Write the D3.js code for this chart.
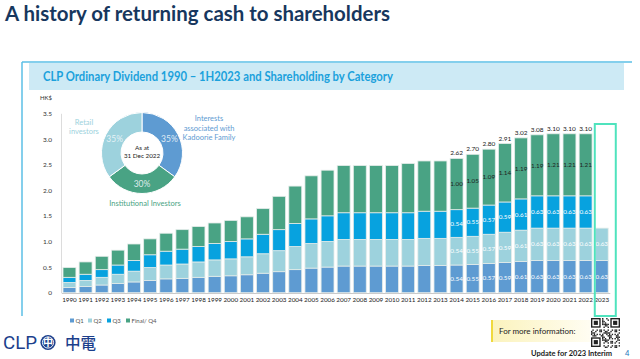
<!DOCTYPE html>
<html><head><meta charset="utf-8">
<script src="https://cdn.jsdelivr.net/npm/d3@7"></script>
<style>
html,body{margin:0;padding:0;background:#fff;}
svg{display:block;font-family:Lato, "Open Sans", sans-serif;}
</style></head>
<body>
<svg id="c" width="640" height="359"></svg>
<script>
const years = ["1990","1991","1992","1993","1994","1995","1996","1997","1998","1999","2000","2001","2002","2003","2004","2005","2006","2007","2008","2009","2010","2011","2012","2013","2014","2015","2016","2017","2018","2019","2020","2021","2022","2023"];
const q1 = [0.10,0.12,0.15,0.18,0.21,0.24,0.27,0.28,0.30,0.32,0.33,0.35,0.38,0.41,0.45,0.48,0.50,0.52,0.52,0.52,0.52,0.52,0.53,0.53,0.54,0.55,0.57,0.59,0.61,0.63,0.63,0.63,0.63,0.63];
const q2 = [0.10,0.12,0.15,0.18,0.21,0.25,0.27,0.28,0.30,0.32,0.33,0.35,0.38,0.41,0.45,0.48,0.50,0.52,0.52,0.52,0.52,0.52,0.53,0.53,0.54,0.55,0.57,0.59,0.61,0.63,0.63,0.63,0.63,0.63];
const q3 = [0.10,0.12,0.15,0.18,0.21,0.25,0.27,0.29,0.30,0.32,0.34,0.35,0.38,0.41,0.45,0.48,0.50,0.52,0.52,0.52,0.52,0.52,0.53,0.53,0.54,0.55,0.57,0.59,0.61,0.63,0.63,0.63,0.63,0];
const q4 = [0.19,0.24,0.26,0.29,0.32,0.31,0.35,0.38,0.39,0.40,0.41,0.43,0.50,0.65,0.73,0.84,0.89,0.92,0.92,0.92,0.92,0.96,0.98,0.98,1.00,1.05,1.09,1.14,1.19,1.19,1.21,1.21,1.21,0];
const totals = [null,null,null,null,null,null,null,null,null,null,null,null,null,null,null,null,null,null,null,null,null,null,null,null,"2.62","2.70","2.80","2.91","3.02","3.08","3.10","3.10","3.10",null];
const labelFrom = "2014";
const yTicks = [0,0.5,1.0,1.5,2.0,2.5,3.0,3.5];
const yTickLabels = ["0","0.5","1.0","1.5","2.0","2.5","3.0","3.5"];
const seriesNames = ["Q1","Q2","Q3","Final/ Q4"];
const seriesColors = ["#5e9bd2","#9dd2dd","#07a2df","#49a384"];
const holders = ["Interests associated with Kadoorie Family","Institutional Investors","Retail investors"];
const holderShares = [35,30,35];
const holderColors = ["#5e9bd2","#49a384","#9dd2dd"];

const svg = d3.select("#c");

// Page title
svg.append("text").attr("x",5).attr("y",21).attr("font-size",21).attr("font-weight",700)
  .attr("fill","#17375e").attr("textLength",385).attr("lengthAdjust","spacingAndGlyphs")
  .text("A history of returning cash to shareholders");

// Box frame
svg.append("rect").attr("x",29).attr("y",63).attr("width",595).attr("height",27).attr("fill","#cdeaf5");
svg.append("line").attr("x1",22).attr("x2",632).attr("y1",62).attr("y2",62).attr("stroke","#5bbfe6").attr("stroke-width",1.5);
svg.append("line").attr("x1",22).attr("x2",22).attr("y1",62).attr("y2",316).attr("stroke","#5bbfe6").attr("stroke-width",1.5);
svg.append("text").attr("x",43).attr("y",81).attr("font-size",12.5).attr("font-weight",700)
  .attr("fill","#1ba1dc").attr("textLength",350).attr("lengthAdjust","spacingAndGlyphs")
  .text("CLP Ordinary Dividend 1990 \u2013 1H2023 and Shareholding by Category");

// Scales
const x = d3.scaleBand().domain(years).range([61.4,609.8]).paddingInner(0.2).paddingOuter(0.1);
const y = d3.scaleLinear().domain([0,3.5]).range([292.7,113.3]);

// Axes
svg.append("text").attr("x",40).attr("y",100).attr("font-size",6).attr("fill","#333").text("HK$");
const yAxis = svg.append("g").attr("transform","translate(61,0)")
  .call(d3.axisLeft(y).tickValues(yTicks).tickFormat((d,i)=>yTickLabels[i]).tickSize(0).tickPadding(9));
yAxis.select(".domain").attr("stroke","#dcdcdc");
yAxis.selectAll("text").attr("font-size",6.5).attr("fill","#333").attr("font-family","Lato, sans-serif");

const xAxis = svg.append("g").attr("transform","translate(0,293)")
  .call(d3.axisBottom(x).tickSize(0).tickPadding(5));
xAxis.select(".domain").attr("stroke","#c8c8c8").attr("stroke-width",1.2);
xAxis.selectAll("text").attr("font-size",6.3).attr("fill","#222").attr("font-family","Lato, sans-serif");

// Stacked bars
const rows = years.map((yr,i)=>({year:yr,Q1:q1[i],Q2:q2[i],Q3:q3[i],Q4:q4[i]}));
const keys = ["Q1","Q2","Q3","Q4"];
const stack = d3.stack().keys(keys)(rows);
const g = svg.append("g");
stack.forEach((layer,k)=>{
  g.append("g").selectAll("rect").data(layer).join("rect")
    .attr("x",d=>x(d.data.year)).attr("width",x.bandwidth())
    .attr("y",d=>y(d[1])).attr("height",d=>Math.max(0,y(d[0])-y(d[1])))
    .attr("fill",seriesColors[k]).attr("stroke","#e4ece9").attr("stroke-width",0.8)
    .style("display",d=>d[1]-d[0]>0?null:"none");
});
// Segment labels
const startIdx = years.indexOf(labelFrom);
stack.forEach((layer,k)=>{
  g.append("g").selectAll("text").data(layer.filter((d,i)=>i>=startIdx && d[1]-d[0]>0)).join("text")
    .attr("x",d=>x(d.data.year)+x.bandwidth()/2)
    .attr("y",d=>(y(d[0])+y(d[1]))/2+2.2)
    .attr("text-anchor","middle").attr("font-size",6.3)
    .attr("fill",k===3?"#1e1e1e":"#ffffff")
    .text(d=>(d[1]-d[0]).toFixed(2));
});
// Totals
g.append("g").selectAll("text").data(rows.map((r,i)=>({r,i})).filter(o=>totals[o.i]!==null)).join("text")
  .attr("x",o=>x(o.r.year)+x.bandwidth()/2)
  .attr("y",o=>y(o.r.Q1+o.r.Q2+o.r.Q3+o.r.Q4)-3)
  .attr("text-anchor","middle").attr("font-size",6.5).attr("fill","#222")
  .text(o=>totals[o.i]);

// Highlight 2023
const last = years[years.length-1];
svg.append("rect").attr("x",x(last)-0.5).attr("y",124).attr("width",21).attr("height",192)
  .attr("fill","none").attr("stroke","#4fe3bd").attr("stroke-width",2);

// Legend
const lg = svg.append("g").attr("transform","translate(70,321)");
const lx = [0,18,37,56];
seriesNames.forEach((n,i)=>{
  lg.append("rect").attr("x",lx[i]).attr("y",-2.5).attr("width",4).attr("height",4).attr("fill",seriesColors[i]);
  lg.append("text").attr("x",lx[i]+5.5).attr("y",1.8).attr("font-size",6).attr("fill","#555").text(n);
});

// Donut
const cx = 142, cy = 153;
const pie = d3.pie().sort(null).value(d=>d)(holderShares);
const arc = d3.arc().innerRadius(21).outerRadius(40.5);
const dg = svg.append("g").attr("transform",`translate(${cx},${cy})`);
dg.selectAll("path").data(pie).join("path").attr("d",arc)
  .attr("fill",(d,i)=>holderColors[i]).attr("stroke","#fff").attr("stroke-width",1);
dg.selectAll("text.pct").data(pie).join("text").attr("class","pct")
  .attr("x",d=>arc.centroid(d)[0]).attr("y",d=>arc.centroid(d)[1]+3)
  .attr("text-anchor","middle").attr("font-size",8.5).attr("fill","#eef6fa").attr("fill-opacity",0.9)
  .text(d=>d.data+"%");
dg.append("text").attr("y",-3.5).attr("text-anchor","middle").attr("font-size",6.3).attr("fill","#222").text("As at");
dg.append("text").attr("y",4.5).attr("text-anchor","middle").attr("font-size",6.3).attr("fill","#222").text("31 Dec 2022");

// Donut outer labels
const kad = svg.append("text").attr("text-anchor","middle").attr("font-size",7.5).attr("fill","#5e9bd2");
["Interests","associated with","Kadoorie Family"].forEach((t,i)=>kad.append("tspan").attr("x",209).attr("y",121+i*9.6).text(t));
const ret = svg.append("text").attr("text-anchor","middle").attr("font-size",7.5).attr("fill","#9dd2dd");
["Retail","investors"].forEach((t,i)=>ret.append("tspan").attr("x",84).attr("y",124.5+i*9.4).text(t));
svg.append("text").attr("x",145).attr("y",205.5).attr("text-anchor","middle").attr("font-size",7.5)
  .attr("fill","#49a384").text("Institutional Investors");

// CLP logo
svg.append("text").attr("x",3).attr("y",349).attr("font-size",18).attr("fill","#1c3f8c")
  .attr("font-family","Roboto, sans-serif").attr("textLength",34).attr("lengthAdjust","spacingAndGlyphs").text("CLP");
svg.append("circle").attr("cx",48).attr("cy",342.5).attr("r",7.6).attr("fill","#1c3f8c");
svg.append("circle").attr("cx",48).attr("cy",342.5).attr("r",5.6).attr("fill","none").attr("stroke","#fff").attr("stroke-width",0.9);
svg.append("text").attr("x",48).attr("y",346.3).attr("text-anchor","middle").attr("font-size",10).attr("font-weight",700)
  .attr("fill","#fff").attr("font-family","'Noto Sans CJK TC', sans-serif").text("\u4e2d");
svg.append("text").attr("x",65).attr("y",349).attr("font-size",15.5).attr("font-weight",500).attr("fill","#1c3f8c")
  .attr("font-family","'Noto Sans CJK TC', sans-serif").text("\u4e2d\u96fb");

// For more information box
const defs = svg.append("defs");
const grad = defs.append("linearGradient").attr("id","yel").attr("x1","0").attr("x2","1");
grad.append("stop").attr("offset","0").attr("stop-color","#fbf3bd");
grad.append("stop").attr("offset","1").attr("stop-color","#fffdf2");
svg.append("rect").attr("x",492).attr("y",320).attr("width",98).attr("height",22).attr("fill","url(#yel)");
svg.append("rect").attr("x",491).attr("y",320).attr("width",2).attr("height",22).attr("fill","#efd93e");
svg.append("text").attr("x",499).attr("y",334).attr("font-size",8).attr("fill","#222").text("For more information:");

// QR-like glyph (decorative)
const qr = svg.append("g").attr("transform","translate(591,318)");
qr.append("rect").attr("width",29).attr("height",30).attr("fill","#fff");
const n = 21, s = 29/n;
const cells = [];
for(let r=0;r<n;r++) for(let c=0;c<n;c++){
  const h = ((r*31+c*17+r*c*7)%11);
  if(h<5) cells.push([r,c]);
}
const inFinder = (r,c)=>(r<8&&c<8)||(r<8&&c>=n-8)||(r>=n-8&&c<8);
qr.selectAll("rect.m").data(cells.filter(([r,c])=>!inFinder(r,c))).join("rect").attr("class","m")
  .attr("x",d=>d[1]*s).attr("y",d=>d[0]*s*30/29).attr("width",s).attr("height",s*30/29).attr("fill","#222");
[[0,0],[0,n-7],[n-7,0]].forEach(([r,c])=>{
  qr.append("rect").attr("x",c*s+0.5*s).attr("y",r*s+0.5*s).attr("width",6*s).attr("height",6*s).attr("fill","none").attr("stroke","#222").attr("stroke-width",s);
  qr.append("rect").attr("x",(c+2)*s).attr("y",(r+2)*s).attr("width",3*s).attr("height",3*s).attr("fill","#222");
});

svg.append("text").attr("x",612).attr("y",355.5).attr("text-anchor","end").attr("font-size",7.5).attr("font-weight",700)
  .attr("fill","#1a1a1a").text("Update for 2023 Interim");
svg.append("text").attr("x",625).attr("y",355.5).attr("font-size",7.5).attr("fill","#1a75bc").text("4");
</script>
</body></html>
